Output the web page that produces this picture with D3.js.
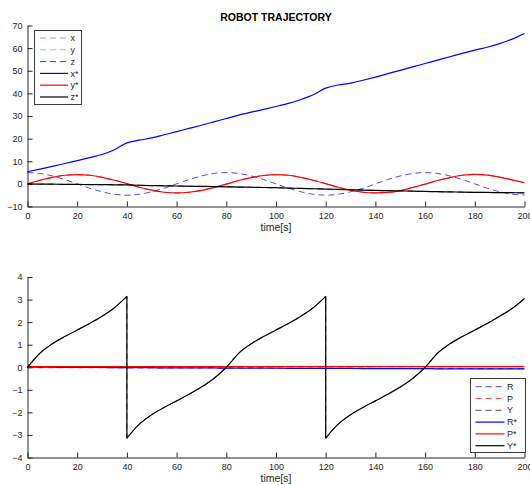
<!DOCTYPE html>
<html>
<head>
<meta charset="utf-8">
<script src="https://cdn.jsdelivr.net/npm/d3@7"></script>
<style>
  html, body { margin: 0; padding: 0; background: #fff; }
  svg { display: block; font-family: "Liberation Sans", Arial, Helvetica, sans-serif; }
</style>
</head>
<body>
<svg id="chart" width="530" height="485"></svg>
<script>
// Sample times [s]
const times = [0,5,10,15,20,25,30,35,40,45,50,55,60,65,70,75,80,85,90,95,100,
               105,110,115,120,125,130,135,140,145,150,155,160,165,170,175,180,185,190,195,200];

// Position (dashed = measured, starred = reference)
const posX = [5.0,4.6,3.5,1.9,0,-1.9,-3.5,-4.6,-5.0,-4.6,-3.5,-1.9,0,1.9,3.5,4.6,5.0,4.6,3.5,1.9,0,
              -1.9,-3.5,-4.6,-5.0,-4.6,-3.5,-1.9,0,1.9,3.5,4.6,5.0,4.6,3.5,1.9,0,-1.9,-3.5,-4.6,-4.9];
const posY = [0,1.6,2.9,3.8,4.1,3.8,2.9,1.6,0.1,-1.5,-2.8,-3.7,-4.0,-3.7,-2.9,-1.6,-0.1,1.5,2.8,3.7,4.1,
              3.8,2.9,1.6,0.1,-1.5,-2.8,-3.7,-4.0,-3.8,-3.0,-1.6,-0.1,1.5,2.8,3.8,4.2,3.9,3.0,1.8,0.5];
const posZ = [0,-0.1,-0.15,-0.2,-0.25,-0.3,-0.35,-0.4,-0.45,-0.6,-0.75,-0.85,-0.95,-1.05,-1.1,-1.2,-1.3,-1.4,-1.5,-1.6,-1.7,
              -1.85,-2.0,-2.15,-2.3,-2.45,-2.6,-2.75,-2.9,-3.0,-3.1,-3.2,-3.35,-3.45,-3.55,-3.65,-3.75,-3.8,-3.85,-3.9,-4.0];
const posXStar = [5.4,6.5,7.7,9.0,10.3,11.6,13.0,15.1,18.1,19.3,20.3,21.7,23.1,24.5,25.9,27.4,28.9,30.4,31.7,32.9,34.2,
                  35.6,37.3,39.4,42.3,43.7,44.5,45.8,47.2,48.7,50.2,51.7,53.2,54.7,56.2,57.7,59.1,60.4,62.0,64.0,66.5];
const posYStar = [0,1.6,2.9,3.8,4.1,3.8,2.9,1.6,0.1,-1.5,-2.8,-3.7,-4.0,-3.7,-2.9,-1.6,-0.1,1.5,2.8,3.7,4.1,
                  3.8,2.9,1.6,0.1,-1.5,-2.8,-3.7,-4.0,-3.8,-3.0,-1.6,-0.1,1.5,2.8,3.8,4.2,3.9,3.0,1.8,0.5];
const posZStar = [0,-0.1,-0.15,-0.2,-0.25,-0.3,-0.35,-0.4,-0.45,-0.6,-0.75,-0.85,-0.95,-1.05,-1.1,-1.2,-1.3,-1.4,-1.5,-1.6,-1.7,
                  -1.85,-2.0,-2.15,-2.3,-2.45,-2.6,-2.75,-2.9,-3.0,-3.1,-3.2,-3.35,-3.45,-3.55,-3.65,-3.75,-3.8,-3.85,-3.9,-4.0];

// Orientation [rad]
const roll = [-0.02,-0.02,-0.02,-0.02,-0.02,-0.02,-0.02,-0.02,-0.03,-0.03,-0.03,-0.03,-0.03,-0.03,-0.03,-0.03,-0.03,-0.03,-0.03,-0.03,-0.04,
              -0.04,-0.04,-0.04,-0.04,-0.04,-0.04,-0.04,-0.05,-0.05,-0.05,-0.05,-0.05,-0.05,-0.05,-0.05,-0.06,-0.06,-0.06,-0.06,-0.06];
const pitch = [0.03,0.03,0.03,0.03,0.03,0.03,0.03,0.03,0.03,0.03,0.03,0.03,0.03,0.03,0.03,0.03,0.03,0.03,0.03,0.03,0.03,
               0.03,0.03,0.03,0.03,0.03,0.03,0.03,0.03,0.03,0.03,0.03,0.03,0.03,0.03,0.03,0.03,0.03,0.03,0.03,0.03];
const rollStar = [0,0,0,-0.01,-0.01,-0.01,-0.01,-0.02,-0.02,-0.02,-0.02,-0.03,-0.03,-0.03,-0.03,-0.03,-0.04,-0.04,-0.04,-0.04,-0.04,
                  -0.05,-0.05,-0.05,-0.05,-0.05,-0.05,-0.06,-0.06,-0.06,-0.06,-0.06,-0.06,-0.07,-0.07,-0.07,-0.07,-0.07,-0.07,-0.07,-0.07];
const pitchStar = [0.03,0.03,0.03,0.03,0.03,0.03,0.03,0.03,0.03,0.03,0.03,0.03,0.03,0.03,0.03,0.03,0.03,0.03,0.03,0.03,0.03,
                   0.03,0.03,0.03,0.03,0.03,0.03,0.03,0.03,0.03,0.03,0.03,0.03,0.03,0.03,0.03,0.03,0.03,0.03,0.03,0.03];

// Yaw wraps at ±pi, so its time base repeats the instants of each wrap
const yawTimes = [0,5,10,15,20,25,30,35,40,40,45,50,55,60,65,70,75,80,85,90,95,100,
                  105,110,115,120,120,125,130,135,140,145,150,155,160,165,170,175,180,185,190,195,200];
const yaw = [0,0.62,1.04,1.36,1.65,1.94,2.26,2.64,3.14,-3.14,-2.52,-2.10,-1.78,-1.49,-1.20,-0.88,-0.50,0,0.62,1.04,1.36,1.65,
             1.94,2.26,2.64,3.14,-3.14,-2.52,-2.10,-1.78,-1.49,-1.20,-0.88,-0.50,0,0.62,1.04,1.36,1.65,1.94,2.26,2.60,3.05];
const yawStar = [0,0.62,1.04,1.36,1.65,1.94,2.26,2.64,3.14,-3.14,-2.52,-2.10,-1.78,-1.49,-1.20,-0.88,-0.50,0,0.62,1.04,1.36,1.65,
                 1.94,2.26,2.64,3.14,-3.14,-2.52,-2.10,-1.78,-1.49,-1.20,-0.88,-0.50,0,0.62,1.04,1.36,1.65,1.94,2.26,2.60,3.05];

const xTicks = [0,20,40,60,80,100,120,140,160,180,200];
const posTicks = [-10,0,10,20,30,40,50,60,70];
const angTicks = [-4,-3,-2,-1,0,1,2,3,4];
const posLabels = ["x","y","z","x*","y*","z*"];
const angLabels = ["R","P","Y","R*","P*","Y*"];
const titleText = "ROBOT TRAJECTORY";
const xLabelText = "time[s]";

const INK = "#262626";
const BLUE = "#0000ff", RED = "#ff0000", BLACK = "#000000";
const DASH = "6,4";
const SOLID_W = 1.2, DASH_W = 1;

const svg = d3.select("#chart");

const x = d3.scaleLinear().domain([0, 200]).range([27.5, 524.5]);
const yTop = d3.scaleLinear().domain([-10, 70]).range([206.5, 25.5]);
const yBot = d3.scaleLinear().domain([-4, 4]).range([457.5, 277]);

// Builds one path; a repeated time starts a new smooth piece joined by a straight jump
function seriesPath(ts, vs, ys) {
  const pts = ts.map((t, i) => [t, vs[i]]);
  const pieces = [];
  let cur = [pts[0]];
  for (let i = 1; i < pts.length; i++) {
    if (pts[i][0] === pts[i - 1][0]) { pieces.push(cur); cur = [pts[i]]; }
    else cur.push(pts[i]);
  }
  pieces.push(cur);
  const line = d3.line().x(d => x(d[0])).y(d => ys(d[1])).curve(d3.curveMonotoneX);
  return pieces.map((p, i) => {
    const d = p.length > 1 ? line(p) : `M${x(p[0][0])},${ys(p[0][1])}`;
    return i ? "L" + d.slice(1) : d;
  }).join("");
}

function drawAxes(ys, yTickVals, xLabelY) {
  const gx = svg.append("g").attr("transform", `translate(0,${ys.range()[0]})`)
    .call(d3.axisBottom(x).tickValues(xTicks).tickFormat(d3.format("d"))
      .tickSizeInner(-5).tickSizeOuter(0).tickPadding(6.5));
  const gy = svg.append("g").attr("transform", `translate(${x.range()[0]},0)`)
    .call(d3.axisLeft(ys).tickValues(yTickVals).tickFormat(d3.format("d"))
      .tickSizeInner(-5).tickSizeOuter(0).tickPadding(5));
  [gx, gy].forEach(g => {
    g.select(".domain").attr("stroke", INK);
    g.selectAll(".tick line").attr("stroke", INK);
    g.selectAll(".tick text").attr("fill", INK).style("font-size", "9px")
      .style("font-family", '"Liberation Sans", Arial, sans-serif');
  });
  svg.append("text").attr("x", (x.range()[0] + x.range()[1]) / 2).attr("y", xLabelY)
    .attr("text-anchor", "middle").attr("fill", INK).style("font-size", "10.5px")
    .text(xLabelText);
}

function drawSeries(group, ts, vs, ys, color, dashed) {
  group.append("path")
    .attr("d", seriesPath(ts, vs, ys))
    .attr("fill", "none")
    .attr("stroke", color)
    .attr("stroke-width", dashed ? DASH_W : SOLID_W)
    .attr("stroke-opacity", dashed ? 0.7 : 1)
    .attr("stroke-dasharray", dashed ? DASH : null)
    .attr("stroke-linejoin", "round");
}

function drawLegend(box, labels, colors, dashColors) {
  const g = svg.append("g");
  g.append("rect").attr("x", box.x).attr("y", box.y).attr("width", box.w).attr("height", box.h)
    .attr("fill", "#fff").attr("stroke", "#3a3a3a").attr("stroke-width", 1);
  labels.forEach((lab, i) => {
    const yy = box.y0 + i * box.step;
    const dashed = i < 3;
    g.append("line").attr("x1", box.l1).attr("x2", box.l2).attr("y1", yy).attr("y2", yy)
      .attr("stroke", dashed ? dashColors[i] : colors[i])
      .attr("stroke-width", dashed ? DASH_W : SOLID_W)
      .attr("stroke-dasharray", dashed ? DASH : null);
    g.append("text").attr("x", box.l2 + 2.5).attr("y", yy).attr("dy", "0.35em")
      .attr("fill", INK).style("font-size", "9px").text(lab);
  });
}

// Title
svg.append("text").attr("x", 276).attr("y", 21).attr("text-anchor", "middle")
  .attr("fill", BLACK).style("font-size", "10.5px").style("font-weight", "bold").text(titleText);

// Upper panel: position
drawAxes(yTop, posTicks, 231);
const gTop = svg.append("g");
drawSeries(gTop, times, posX, yTop, BLUE, true);
drawSeries(gTop, times, posY, yTop, RED, true);
drawSeries(gTop, times, posZ, yTop, BLACK, true);
drawSeries(gTop, times, posXStar, yTop, BLUE, false);
drawSeries(gTop, times, posYStar, yTop, RED, false);
drawSeries(gTop, times, posZStar, yTop, BLACK, false);
drawLegend({ x: 34.5, y: 30.5, w: 47, h: 74, y0: 38, step: 11.8, l1: 40, l2: 68 },
  posLabels, [BLUE, RED, BLACK, BLUE, RED, BLACK], ["#9a9aff", "#ff9a9a", "#505050"]);

// Lower panel: orientation
drawAxes(yBot, angTicks, 482);
const gBot = svg.append("g");
drawSeries(gBot, times, roll, yBot, BLUE, true);
drawSeries(gBot, times, pitch, yBot, RED, true);
drawSeries(gBot, yawTimes, yaw, yBot, BLACK, true);
drawSeries(gBot, times, rollStar, yBot, BLUE, false);
drawSeries(gBot, times, pitchStar, yBot, RED, false);
drawSeries(gBot, yawTimes, yawStar, yBot, BLACK, false);
drawLegend({ x: 470.5, y: 378.5, w: 55, h: 74, y0: 386.7, step: 11.8, l1: 475.5, l2: 504.5 },
  angLabels, [BLUE, RED, BLACK, BLUE, RED, BLACK], ["#4a4aff", "#ff4a4a", "#505050"]);
</script>
</body>
</html>
